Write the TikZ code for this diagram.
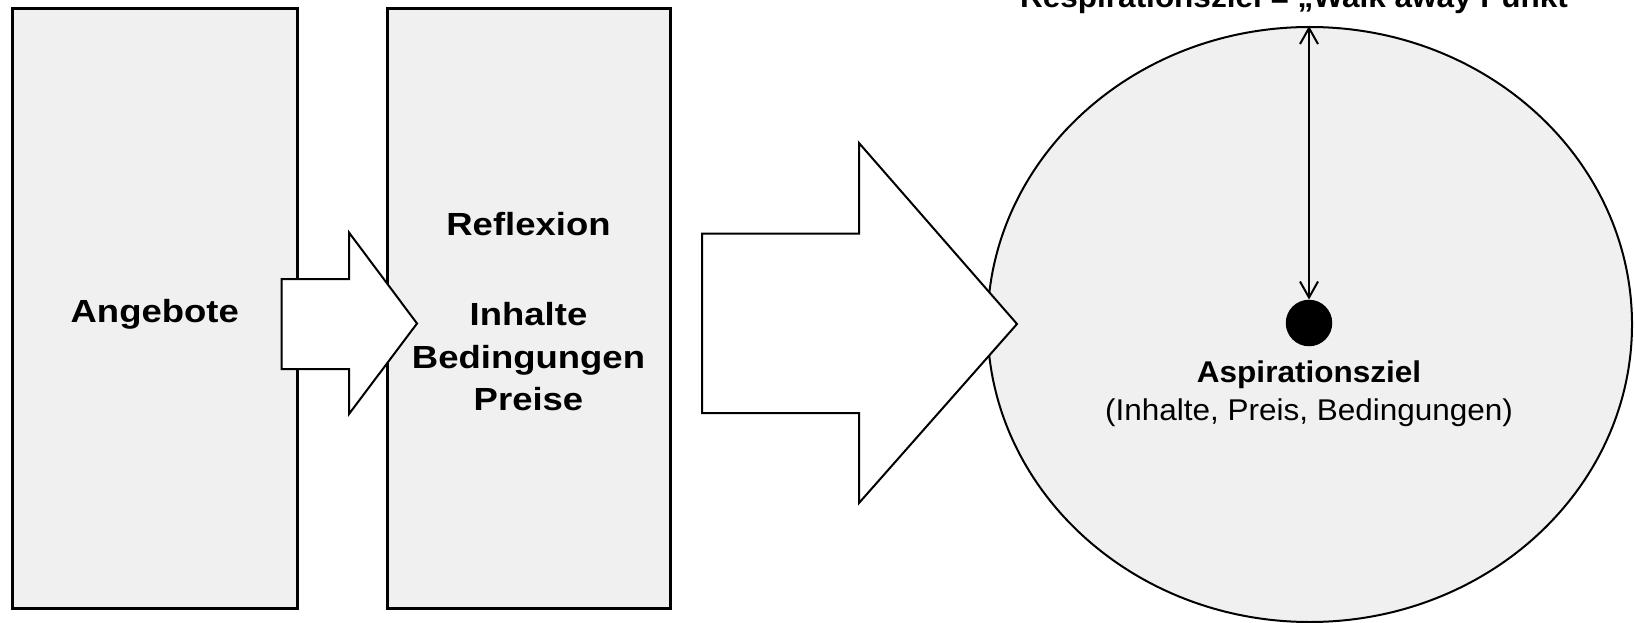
\documentclass[tikz,border=0pt]{standalone}
\usepackage{fontspec}
\setmainfont{Liberation Sans}
\newfontfamily\boxfont{Liberation Sans}[FakeStretch=1.14]
\newfontfamily\ellfont{Liberation Sans}[FakeStretch=1.05]
\usetikzlibrary{shapes.geometric,arrows.meta}
\definecolor{boxgray}{HTML}{F0F0F0}
\tikzset{
  panel/.style={draw=black, line width=3pt, fill=boxgray, inner sep=0pt},
  blockarrow/.style={draw=black, line width=2pt, fill=white, line join=miter},
  boxtext/.style={inner sep=0pt, anchor=base, font=\boxfont\fontsize{32}{38}\selectfont\bfseries},
  elltext/.style={inner sep=0pt, anchor=base, font=\ellfont\fontsize{30}{36}\selectfont},
  goalshape/.style={draw=black, line width=2pt, fill=boxgray, ellipse, inner sep=0pt},
  dotshape/.style={circle, fill=black, inner sep=0pt, minimum size=46.5pt},
  rangearrow/.style={line width=2pt, {Straight Barb[length=16pt,width=18pt,line width=2pt]}-{Straight Barb[length=16pt,width=18pt,line width=2pt]}}
}
\begin{document}
\begin{tikzpicture}[x=1pt,y=-1pt]
\useasboundingbox (0,0) rectangle (1635,623);
% panels
\node[panel, minimum width=284.5pt, minimum height=599.5pt] (angebote) at (154.75,308.75) {};
\node[panel, minimum width=283pt, minimum height=599.5pt] (reflexion) at (528.5,308.75) {};
% goal ellipse
\node[goalshape, minimum width=644.5pt, minimum height=595pt] (goal) at (1309.75,324.5) {};
% small block arrow
\draw[blockarrow] (281.5,279) -- (349,279) -- (349,232.5) -- (417,323.5) -- (349,414) -- (349,369) -- (281.5,369) -- cycle;
% big block arrow
\draw[blockarrow] (702,233.7) -- (859,233.7) -- (859,143) -- (1017,324) -- (859,503) -- (859,413) -- (702,413) -- cycle;
% texts in panels
\node[boxtext] (t1) at (154.75,322) {Angebote};
\node[boxtext] (t2) at (528.5,235) {Reflexion};
\node[boxtext] (t3) at (528.5,325) {Inhalte};
\node[boxtext] (t4) at (528.5,368) {Bedingungen};
\node[boxtext] (t5) at (528.5,410) {Preise};
% dot and range arrow
\node[dotshape] (dot) at (1309,323) {};
\draw[rangearrow] (dot.north) -- (dot.north |- goal.north);
% ellipse texts
\node[elltext, font=\ellfont\fontsize{30}{36}\selectfont\bfseries] (asp) at (1309,382) {Aspirationsziel};
\node[elltext] (aspsub) at (1309,420) {(Inhalte, Preis, Bedingungen)};
\node[elltext, anchor=base west, font=\ellfont\fontsize{30}{36}\selectfont\bfseries] (top) at (1020,7.5) {Respirationsziel = „Walk away Punkt“};
\end{tikzpicture}
\end{document}
